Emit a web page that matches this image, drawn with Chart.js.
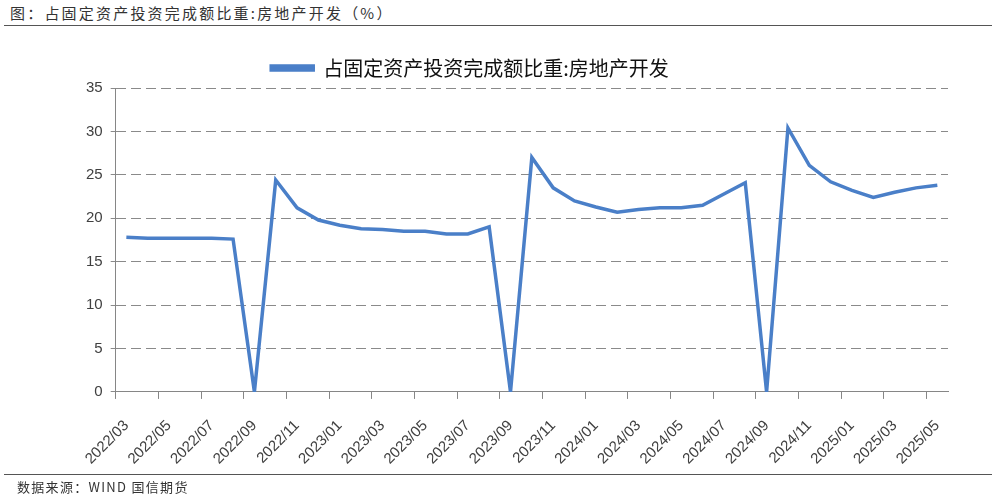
<!DOCTYPE html>
<html>
<head>
<meta charset="utf-8">
<script src="https://cdn.jsdelivr.net/npm/chart.js@4"></script>
<style>
  body { margin: 0; background: #fff; width: 996px; height: 504px; position: relative; overflow: hidden; }
  #title { position: absolute; left: 10px; top: 2px; font: 15px "Noto Sans CJK SC", sans-serif; color: #333; letter-spacing: 2.2px; }
  #rule-top { position: absolute; left: 4px; right: 4px; top: 25px; height: 1px; background: #555; }
  #rule-bottom { position: absolute; left: 4px; right: 4px; top: 474px; height: 1px; background: #555; }
  #source { position: absolute; left: 17px; top: 477px; font: 13px "Noto Sans CJK SC", sans-serif; color: #333; letter-spacing: 1.3px; }
  #wrap { position: absolute; left: 0; top: 30px; width: 996px; height: 456px; }
</style>
</head>
<body>
<div id="title">图：占固定资产投资完成额比重:房地产开发（%）</div>
<div id="rule-top"></div>
<div id="wrap"><canvas id="chart"></canvas></div>
<div id="rule-bottom"></div>
<div id="source">数据来源：WIND 国信期货</div>
<script>
(function () {
  const months = [
    "2022/03", "2022/04", "2022/05", "2022/06", "2022/07", "2022/08", "2022/09", "2022/10",
    "2022/11", "2022/12", "2023/01", "2023/02", "2023/03", "2023/04", "2023/05", "2023/06",
    "2023/07", "2023/08", "2023/09", "2023/10", "2023/11", "2023/12", "2024/01", "2024/02",
    "2024/03", "2024/04", "2024/05", "2024/06", "2024/07", "2024/08", "2024/09", "2024/10",
    "2024/11", "2024/12", "2025/01", "2025/02", "2025/03", "2025/04", "2025/05",
  ];
  const share = [
    17.8, 17.7, 17.7, 17.7, 17.7, 17.6, 0, 24.4,
    21.2, 19.8, 19.2, 18.8, 18.7, 18.5, 18.5, 18.2,
    18.2, 19.0, 0, 27.0, 23.5, 22.0, 21.3, 20.7,
    21.0, 21.2, 21.2, 21.5, 22.8, 24.1, 0, 30.4,
    26.1, 24.2, 23.2, 22.4, 23.0, 23.5, 23.8,
  ];
  const yTicks = [0, 5, 10, 15, 20, 25, 30, 35];

  const blue = "#4a7fc8";
  const axisGrey = "#868686";
  const labelColor = "#404040";

  // the legend sits a little left of centre in the original
  const legendShift = {
    id: "legendShift",
    afterLayout(chart) {
      chart.legend.left -= 43;
      chart.legend.right -= 43;
    },
  };

  new Chart(document.getElementById("chart"), {
    type: "line",
    data: {
      labels: months,
      datasets: [
        {
          label: "占固定资产投资完成额比重:房地产开发",
          data: share,
          borderColor: blue,
          backgroundColor: blue,
          borderWidth: 3.5,
          pointRadius: 0,
          tension: 0,
        },
      ],
    },
    options: {
      responsive: true,
      maintainAspectRatio: false,
      animation: false,
      layout: { padding: { left: 78, right: 48, top: 18, bottom: 0 } },
      scales: {
        x: {
          offset: true,
          grid: {
            offset: true,
            drawOnChartArea: false,
            tickLength: 7,
            color: (ctx) => (ctx.index % 2 === 0 ? axisGrey : "rgba(0,0,0,0)"),
          },
          border: { color: axisGrey, width: 1 },
          ticks: {
            autoSkip: false,
            maxRotation: 45,
            minRotation: 45,
            color: labelColor,
            font: { family: "Liberation Sans", size: 15 },
            padding: 18,
            callback: (v, i) => (i % 2 === 0 ? months[i] : ""),
          },
        },
        y: {
          min: 0,
          max: 35,
          afterBuildTicks: (axis) => {
            axis.ticks = yTicks.map((v) => ({ value: v }));
          },
          grid: {
            color: "#8a8a8a",
            lineWidth: 1,
            tickLength: 5,
          },
          border: { color: axisGrey, width: 1, dash: [10, 5] },
          ticks: {
            color: labelColor,
            font: { family: "Liberation Sans", size: 15 },
            padding: 8,
          },
        },
      },
      plugins: {
        legend: {
          position: "top",
          labels: {
            boxWidth: 42,
            boxHeight: 4,
            color: "#111",
            font: { family: "Noto Sans CJK SC", size: 20 },
            padding: 10,
          },
        },
        tooltip: { enabled: false },
      },
    },
    plugins: [legendShift],
  });
})();
</script>
</body>
</html>
